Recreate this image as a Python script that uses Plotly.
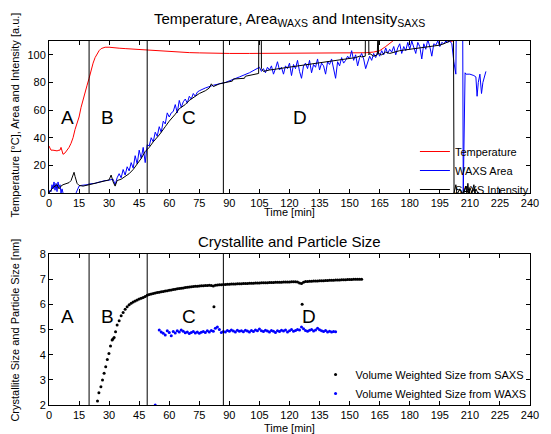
import plotly.graph_objects as go

# ---------------- data: top panel ----------------
temp_t = [0, 0.5, 1, 2, 3, 4, 5, 5.5, 6, 6.5, 7, 8, 9, 10, 11, 12, 13, 14, 15, 16, 17, 18, 19, 20,
          21, 22, 23, 24, 25, 26, 28, 30, 32, 35, 38, 40, 45, 48, 50, 55, 60, 65, 70, 75, 80, 85,
          90, 100, 110, 120, 130, 140, 150, 155, 158, 162, 165, 168, 170, 172, 174, 180, 190,
          197, 199, 200.5, 202, 203]
temp_v = [34, 32, 31, 31, 30.5, 30.5, 31, 31, 33, 31, 28, 29, 31, 33, 36, 40, 46, 50, 55, 62, 68,
          73, 78, 83, 89, 94, 98, 101, 103, 104.5, 105.5, 105.5, 105, 104.8, 104.5, 104.3, 104,
          103.8, 103.3, 102.6, 102.2, 101.8, 101.6, 101.4, 101.2, 101,
          101, 101, 101, 101, 101, 101, 101, 101, 101.5, 102, 103, 106, 108, 110.5, 113, 118, 120,
          115, 111, 109.6, 110.3, 114]

waxs_t = [0, 0.5, 1, 1.5, 2, 2.5, 3, 3.5, 4, 4.5, 5, 5.5, 6, 6.5, 7, 10, 13.5, 14.5,
          15, 16, 17, 18, 19, 20, 21, 22, 23, 24, 25, 26, 27, 28, 29, 30, 31, 32, 33, 34, 35, 36,
          37, 38, 39, 40, 41, 42, 43, 44, 45, 46, 47, 48, 49, 50, 51, 52, 53, 54, 55, 56, 57, 58,
          59, 60, 61, 62, 63, 64, 65, 66, 67, 68, 69, 70, 71, 72, 73, 74, 75,
          78, 82, 88, 95, 100, 105,
          106, 107, 108, 109, 110, 111, 112, 113, 114, 115, 116, 117, 118, 119, 120, 121, 122,
          123, 124, 125, 126, 127, 128, 129, 130, 131, 132, 133, 134, 135, 136, 137, 138, 139,
          140, 141, 142, 143, 144, 145, 146, 147, 148, 149, 150, 151, 152, 153, 154, 155, 156,
          157, 158, 159, 160, 161, 162, 163, 164, 165, 166, 167, 168, 169, 170, 171, 172, 173,
          174, 175, 176, 177, 178, 179, 180, 181, 182, 183, 184, 185, 186, 187, 188, 189, 190,
          191, 192, 193, 194, 195, 196, 197, 198, 199, 200,
          201, 202, 203, 203.3, 206.4, 206.7, 207.6, 208, 210, 212, 213, 213.6, 214.2, 215,
          215.8, 216.5, 218]
waxs_v = [0, 2, 1, 6, 3, 8, 2, 7, 1, 8, 4, 6, 0, 3, 0, None, 0, 4,
          5, 5.5, 5.5, 6, 6, 6.5, 6.5, 7, 7, 7.5, 8, 8, 8.5, 9, 9, 9.5, 10, 10, 6, 11, 14, 11,
          17, 13, 19, 16, 22, 18, 27, 21, 31, 25, 33, 22, 35, 34, 40, 37, 44, 41, 48, 44, 52, 50,
          58, 55, 58, 59, 64, 58, 67, 62, 66, 68, 65, 70, 68, 72, 70, 73, 74,
          76, 78, 80, 84, 87, 91,
          88, 90, 87, 91, 89, 92, 86, 90, 95, 89, 91, 86, 92, 90, 94, 85, 93,
          90, 96, 88, 83, 92, 94, 90, 96, 87, 93, 91, 97, 89, 94, 92, 86, 95,
          93, 97, 90, 83, 95, 92, 98, 94, 96, 99, 97, 103, 96, 100, 92, 98, 101,
          97, 90, 95, 99, 96, 101, 98, 102, 99, 103, 100, 105, 101, 104, 102, 106, 100,
          105, 108, 101, 106, 103, 109, 104, 110, 105, 101, 109, 106, 97, 108, 104, 111, 106,
          99, 108, 107, 110, 106, 109, 108, 110, 109, 110,
          108, 95, 86, 130, 130, 0, 87, 86, 86, 85, 84, 70, 80, 86,
          72, 80, 88]

saxs_t = [0, 1, 2, 3, 4, 5, 6, 7, 8, 9, 10, 11, 12, 12.5, 13, 14, 15, 17, 20, 25, 28, 30, 31,
          32, 33, 34, 36, 38, 40, 42, 44, 46, 48, 50, 52, 55, 58, 60, 63, 65, 68, 70, 73, 75, 78,
          80, 81, 82, 85, 88, 90, 91.5, 92, 95, 97.5, 98, 100, 103, 104.6, 104.7, 105.9, 106, 107,
          110, 115, 120, 125, 130, 135, 140, 145, 150, 153, 155, 156, 157.8, 157.9, 159.5, 159.6,
          160, 162, 163.8, 163.9, 164.3, 164.4, 166, 168, 170, 175, 180, 185, 190, 195, 197, 199,
          200, 201.8, 202.1, 203, 203.5, 204, 205, 206, 207, 208, 208.5, 209, 209.5, 210, 211,
          212, 212.5, 213, 214]
saxs_v = [0, 2, 4, 5, 6, 3, 5, 6, 6.5, 7, 7.5, 9, 13, 15, 12, 7, 5.5, 5, 6, 7.5, 8.5, 9.5, 13,
          8, 5, 9, 10, 12, 14, 17, 21, 25, 30, 33, 37, 42, 48, 52, 57, 61, 64, 67, 70, 72, 74,
          76, 79, 77, 79, 80, 81, 81, 82.5, 83, 83, 84.5, 85, 86, 86.5, 125, 125, 90, 88,
          89, 90, 91, 92, 93, 94, 95, 96, 97, 98, 99, 98.5, 99, 125, 125, 100,
          101, 99, 100, 125, 125, 101, 100, 102, 101, 103, 104, 105, 106, 107, 108, 109,
          110, 125, 0, 6, 0, 0, 3, 0, 0, 5, 0, 7, 0, 4, 0,
          6, 0, 3, 0]

# ---------------- data: bottom panel ----------------
size_saxs_t = [24.2, 24.9, 25.9, 26.7, 27.5, 28.3, 29.1, 29.9, 30.7, 31.5, 31.9, 32.5, 33.2, 34]
size_saxs_v = [2.16, 2.49, 2.73, 2.99, 3.26, 3.52, 3.81, 4.05, 4.34, 4.58, 4.62, 4.68, 4.91, 5.18]
size_saxs_t += list(range(35, 157))
size_saxs_v += [
    5.35, 5.55, 5.68, 5.80, 5.90, 5.98, 6.04, 6.09, 6.13, 6.17,   # 35-44
    6.21, 6.24, 6.27, 6.31, 6.36, 6.39, 6.41, 6.43, 6.45, 6.47,   # 45-54
    6.48, 6.50, 6.51, 6.53, 6.54, 6.56, 6.57, 6.59, 6.60, 6.62,   # 55-64
    6.63, 6.64, 6.65, 6.67, 6.68, 6.69, 6.70, 6.71, 6.72, 6.72,   # 65-74
    6.73, 6.74, 6.74, 6.75, 6.75, 6.76, 6.75, 6.73, 6.76, 6.77,   # 75-84
    6.78, 6.78, 6.79, 6.79, 6.80, 6.80, 6.81, 6.81, 6.81, 6.82,   # 85-94
    6.82, 6.82, 6.83, 6.83, 6.83, 6.84, 6.84, 6.84, 6.85, 6.85,   # 95-104
    6.85, 6.86, 6.86, 6.86, 6.86, 6.87, 6.87, 6.87, 6.88, 6.88,   # 105-114
    6.88, 6.88, 6.89, 6.89, 6.89, 6.89, 6.90, 6.90, 6.90, 6.89,   # 115-124
    6.85, 6.83, 6.88, 6.91, 6.91, 6.92, 6.92, 6.93, 6.93, 6.93,   # 125-134
    6.94, 6.94, 6.94, 6.95, 6.95, 6.96, 6.96, 6.96, 6.97, 6.97,   # 135-144
    6.97, 6.98, 6.98, 6.98, 6.99, 6.99, 6.99, 7.00, 7.00, 7.00,   # 145-154
    7.00, 7.00]                                                   # 155-156
size_saxs_t += [82.3, 126.3]
size_saxs_v += [5.9, 6.0]

size_waxs_t = [53] + list(range(55, 144))
size_waxs_v = [2.0,
               4.98, 4.9, 4.85, 4.78, 4.95, 4.88, 4.75, 4.92, 4.86, 4.95, 4.9, 4.98, 4.93, 4.87,
               4.9, 4.84, 4.88, 4.92, 4.86, 4.9, 4.85, 4.89, 4.92, 4.88, 4.95, 4.9, 4.96, 4.93,
               5.05, 5.1, 5.0, 4.88, 4.92, 4.9, 4.96, 4.93, 4.98, 4.94, 4.9, 4.97, 4.93, 4.95,
               4.91, 4.97, 4.94, 4.9, 4.96, 4.92, 4.98, 4.95, 5.02, 4.95, 4.92, 4.97, 4.94, 4.9,
               4.96, 4.93, 4.88, 4.95, 4.92, 4.97, 4.94, 4.98, 4.9, 4.95, 5.0, 4.93, 4.96, 5.0,
               4.98, 5.1, 5.03, 4.96, 4.93, 4.97, 5.0, 4.94, 4.98, 5.05, 4.99, 4.95, 4.92, 4.96,
               4.9, 4.93, 4.9, 4.92, 4.91]

phase_bounds = [20, 49, 87]
phase_labels = ["A", "B", "C", "D"]
phase_label_x_top = [9.3, 29, 69.8, 125]
phase_label_x_bot = [9.3, 29, 69.8, 129.8]
time_ticks = list(range(0, 241, 15))
top_yticks = [0, 20, 40, 60, 80, 100]
bot_yticks = [2, 3, 4, 5, 6, 7, 8]

FONT = "Liberation Sans, Arial, sans-serif"

fig = go.Figure()
fig.add_trace(go.Scatter(x=temp_t, y=temp_v, mode="lines", name="Temperature",
                         line=dict(color="#ff0000", width=1), xaxis="x", yaxis="y",
                         legend="legend"))
fig.add_trace(go.Scatter(x=waxs_t, y=waxs_v, mode="lines", name="WAXS Area",
                         line=dict(color="#0000ff", width=1), xaxis="x", yaxis="y",
                         legend="legend", connectgaps=False))
fig.add_trace(go.Scatter(x=saxs_t, y=saxs_v, mode="lines", name="SAXS Intensity",
                         line=dict(color="#000000", width=1), xaxis="x", yaxis="y",
                         legend="legend"))
fig.add_trace(go.Scatter(x=size_saxs_t, y=size_saxs_v, mode="markers",
                         name="Volume Weighted Size from SAXS",
                         marker=dict(color="#000000", size=3), xaxis="x2", yaxis="y2",
                         legend="legend2"))
fig.add_trace(go.Scatter(x=size_waxs_t, y=size_waxs_v, mode="markers",
                         name="Volume Weighted Size from WAXS",
                         marker=dict(color="#0000ff", size=3), xaxis="x2", yaxis="y2",
                         legend="legend2"))

axis_common = dict(showline=True, linecolor="black", linewidth=1, mirror="ticks",
                   ticks="inside", ticklen=4, tickcolor="black", showgrid=False,
                   zeroline=False, tickfont=dict(family=FONT, size=11, color="black"))

shapes = []
for b in phase_bounds:
    for xr, yr in (("x", "y domain"), ("x2", "y2 domain")):
        shapes.append(dict(type="line", xref=xr, yref=yr, x0=b, x1=b, y0=0, y1=1,
                           line=dict(color="black", width=1)))

annotations = []
for lab, xa, xb in zip(phase_labels, phase_label_x_top, phase_label_x_bot):
    annotations.append(dict(text=lab, x=xa, y=55, xref="x", yref="y", showarrow=False,
                            xanchor="center", yanchor="middle",
                            font=dict(family=FONT, size=19, color="black")))
    annotations.append(dict(text=lab, x=xb, y=5.5, xref="x2", yref="y2", showarrow=False,
                            xanchor="center", yanchor="middle",
                            font=dict(family=FONT, size=19, color="black")))

# paper coords: x = (px - 49) / 489, y = (405 - py) / 364  (px, py in window pixels)
annotations += [
    dict(text="Temperature, Area<sub>WAXS</sub> and Intensity<sub>SAXS</sub>",
         x=0.5, y=(405 - 20) / 364, xref="paper", yref="paper", showarrow=False,
         xanchor="center", yanchor="middle",
         font=dict(family=FONT, size=15, color="black")),
    dict(text="Crystallite and Particle Size", x=0.5, y=(405 - 241) / 364, xref="paper",
         yref="paper", showarrow=False, xanchor="center", yanchor="middle",
         font=dict(family=FONT, size=15, color="black")),
    dict(text="Time [min]", x=0.5, y=(405 - 212) / 364, xref="paper", yref="paper",
         showarrow=False, xanchor="center", yanchor="middle",
         font=dict(family=FONT, size=11, color="black")),
    dict(text="Time [min]", x=0.5, y=(405 - 428) / 364, xref="paper", yref="paper",
         showarrow=False, xanchor="center", yanchor="middle",
         font=dict(family=FONT, size=11, color="black")),
    dict(text="Temperature [°C], Area and Intensity [a.u.]", x=(14 - 49) / 489,
         y=(405 - 115) / 364, xref="paper", yref="paper", showarrow=False, textangle=-90,
         xanchor="center", yanchor="middle",
         font=dict(family=FONT, size=11, color="black")),
    dict(text="Crystallite Size and Particle Size [nm]", x=(14 - 49) / 489,
         y=(405 - 330) / 364, xref="paper", yref="paper", showarrow=False, textangle=-90,
         xanchor="center", yanchor="middle",
         font=dict(family=FONT, size=11, color="black")),
]

# page body has an 8px margin: figure is drawn at (8, 8), so size/margins are shifted
fig.update_layout(
    width=543, height=426,
    margin=dict(l=41, r=13, t=33, b=29),
    paper_bgcolor="white", plot_bgcolor="white",
    font=dict(family=FONT, color="black"),
    xaxis=dict(domain=[0, 1], range=[0, 240], tickvals=time_ticks, anchor="y", **axis_common),
    yaxis=dict(domain=[0.5824, 1], range=[0, 110], tickvals=top_yticks, anchor="x",
               **axis_common),
    xaxis2=dict(domain=[0, 1], range=[0, 240], tickvals=time_ticks, anchor="y2",
                **axis_common),
    yaxis2=dict(domain=[0, 0.4148], range=[2, 8], tickvals=bot_yticks, anchor="x2",
                **axis_common),
    legend=dict(x=(421 - 49) / 489, y=(405 - 137) / 364, xanchor="left", yanchor="top",
                bgcolor="rgba(0,0,0,0)", borderwidth=0,
                font=dict(family=FONT, size=11, color="black")),
    legend2=dict(x=(320 - 49) / 489, y=(405 - 360) / 364, xanchor="left", yanchor="top",
                 bgcolor="rgba(0,0,0,0)", borderwidth=0,
                 font=dict(family=FONT, size=11, color="black")),
    shapes=shapes,
    annotations=annotations,
)

fig.write_html("out.html")
